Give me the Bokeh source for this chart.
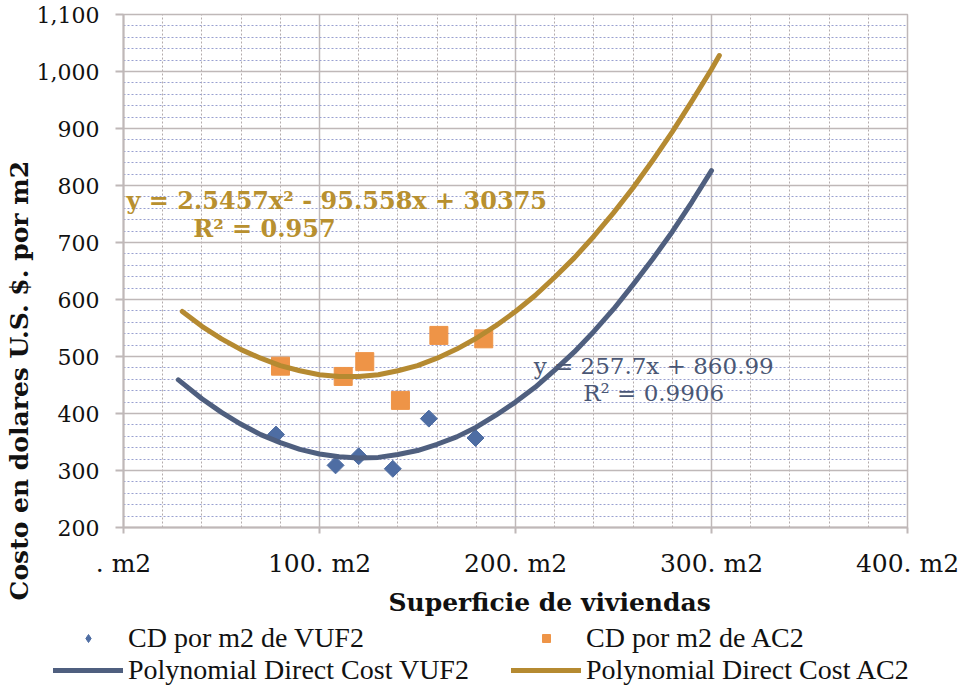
import math
from bokeh.plotting import figure
from bokeh.models import (Range1d, SingleIntervalTicker, NumeralTickFormatter,
                          Legend, LegendItem, Label, Title)
from bokeh.embed import file_html
from bokeh.resources import INLINE

# ---------------- data ----------------
x_vuf2 = [77.8, 108.2, 120.0, 137.4, 155.8, 179.6]
y_vuf2 = [363, 309, 325, 303, 391, 357]

x_ac2 = [80.1, 112.1, 123.1, 141.3, 160.9, 183.8]
y_ac2 = [483, 465, 491, 423, 537, 531]

# trend curves
x_fit_vuf2 = [28, 40, 50, 60, 70, 80, 90, 100, 110, 120, 130, 140, 150, 160,
              170, 180, 190, 200, 210, 220, 230, 240, 250, 260, 270, 280, 290, 300]
y_fit_vuf2 = [459, 426, 402, 381, 363, 349, 337, 329, 324, 322, 323, 328, 335, 346,
              359, 376, 397, 420, 446, 476, 508, 544, 583, 626, 671, 719, 771, 826]

x_fit_ac2 = [30, 40, 50, 60, 70, 80, 90, 100, 110, 120, 130, 140, 150, 160, 170,
             180, 190, 200, 210, 220, 230, 240, 250, 260, 270, 280, 290, 300, 304]
y_fit_ac2 = [579, 553, 531, 512, 497, 484, 475, 468, 465, 465, 468, 475, 484, 497, 513,
             532, 554, 579, 607, 639, 673, 711, 752, 796, 844, 894, 948, 1004, 1028]

x_ticks = [0, 100, 200, 300, 400]
x_tick_labels = [". m2", "100. m2", "200. m2", "300. m2", "400. m2"]

eq_ac2 = ["y = 2.5457x² - 95.558x + 30375", "R² = 0.957"]
eq_vuf2 = ["y = 257.7x + 860.99", "R² = 0.9906"]

series_names = ["CD por m2 de VUF2", "CD por m2 de AC2",
                "Polynomial Direct Cost VUF2", "Polynomial Direct Cost AC2"]

x_title = "Superficie de viviendas"
y_title = "Costo en dolares U.S. $. por m2"

# ---------------- styles ----------------
C_DIAM = "#4E6DA3"
C_SQ = "#EE9447"
C_LVUF = "#4F5F7F"
C_LAC = "#B58A31"
C_TXT_GOLD = "#B8902F"
C_TXT_BLUE = "#4A5775"
C_GRID = "#BFB8B8"
SERIF = "DejaVu Serif"
W = 960

p = figure(width=W, height=622, x_range=Range1d(0, 400), y_range=Range1d(200, 1100),
           output_backend="svg", toolbar_location=None,
           min_border_left=123, min_border_right=53, min_border_top=14, min_border_bottom=95)
p.background_fill_color = "white"
p.border_fill_color = "white"
p.outline_line_color = C_GRID
p.outline_line_width = 1.5

p.xaxis.ticker = SingleIntervalTicker(interval=100, num_minor_ticks=5)
p.yaxis.ticker = SingleIntervalTicker(interval=100, num_minor_ticks=5)
p.xaxis.major_label_overrides = {t: l for t, l in zip(x_ticks, x_tick_labels)}
p.yaxis.formatter = NumeralTickFormatter(format="0,0")

for ax in (p.xaxis[0], p.yaxis[0]):
    ax.axis_line_color = C_GRID
    ax.axis_line_width = 2
    ax.major_tick_line_color = C_GRID
    ax.major_tick_line_width = 2
    ax.major_tick_in = 0
    ax.minor_tick_in = 0
    ax.minor_tick_out = 0
    ax.major_label_text_font = SERIF
    ax.major_label_text_color = "#111111"
p.xaxis.major_tick_out = 6
p.yaxis.major_tick_out = 8
p.xaxis.major_label_text_font_size = "25px"
p.yaxis.major_label_text_font_size = "22px"
p.xaxis.major_label_standoff = 15
p.yaxis.major_label_standoff = 16

p.xgrid.grid_line_color = C_GRID
p.xgrid.grid_line_width = 1.5
p.ygrid.grid_line_color = C_GRID
p.ygrid.grid_line_width = 1.5
p.xgrid.minor_grid_line_color = "#B3ABAB"
p.xgrid.minor_grid_line_dash = "2 2"
p.xgrid.minor_grid_line_width = 1
p.ygrid.minor_grid_line_color = "#99A0D0"
p.ygrid.minor_grid_line_dash = "2 2"
p.ygrid.minor_grid_line_width = 1

p.scatter(x_vuf2, y_vuf2, marker="square", angle=math.pi / 4, size=12,
          fill_color=C_DIAM, line_color=C_DIAM)
p.scatter(x_ac2, y_ac2, marker="square", size=18, fill_color=C_SQ, line_color=C_SQ)
p.line(x_fit_vuf2, y_fit_vuf2, line_color=C_LVUF, line_width=5,
       line_cap="round", line_join="round")
p.line(x_fit_ac2, y_fit_ac2, line_color=C_LAC, line_width=5,
       line_cap="round", line_join="round")

# equations (first gold line kept inside the plot frame)
p.add_layout(Label(x=1.5, y=773.7, text=eq_ac2[0], text_align="left", text_baseline="middle",
                   text_font=SERIF, text_font_style="bold", text_font_size="24px",
                   text_color=C_TXT_GOLD))
p.add_layout(Label(x=71.9, y=724.6, text=eq_ac2[1], text_align="center", text_baseline="middle",
                   text_font=SERIF, text_font_style="bold", text_font_size="24px",
                   text_color=C_TXT_GOLD))
for txt, yy in zip(eq_vuf2, [484.2, 435.1]):
    p.add_layout(Label(x=270.5, y=yy, text=txt, text_align="center", text_baseline="middle",
                       text_font=SERIF, text_font_size="23px", text_color=C_TXT_BLUE))

# axis titles
p.add_layout(Title(text=x_title, align="left", offset=265, standoff=10,
                   text_font=SERIF, text_font_style="bold", text_font_size="25px",
                   text_color="#111111"), "below")
p.add_layout(Title(text=y_title, align="left", offset=-73, standoff=0,
                   text_font=SERIF, text_font_style="bold", text_font_size="25px",
                   text_color="#111111"), "left")

# ---------------- legend strip (separate root, full-width frame) ----------------
q = figure(width=W, height=64, x_range=Range1d(0, 1), y_range=Range1d(0, 1),
           x_axis_type=None, y_axis_type=None,
           output_backend="svg", toolbar_location=None,
           min_border_left=0, min_border_right=0, min_border_top=0, min_border_bottom=0)
q.outline_line_color = None
q.background_fill_color = "white"
q.border_fill_color = "white"
# legend swatches: single points placed outside the strip's visible range
g_vuf = q.scatter([-5], [-5], marker="diamond", size=15,
                  fill_color=C_DIAM, line_color=C_DIAM)
g_ac = q.scatter([-5], [-5], marker="square", size=14, fill_color=C_SQ, line_color=C_SQ)
g_lvuf = q.line([-5, -4], [-5, -5], line_color=C_LVUF, line_width=5, line_cap="round")
g_lac = q.line([-5, -4], [-5, -5], line_color=C_LAC, line_width=5, line_cap="round")


def make_legend(items, loc):
    return Legend(items=items, location=loc, orientation="vertical",
                  glyph_width=70, glyph_height=20, label_standoff=5, spacing=0,
                  padding=0, margin=0, border_line_color=None, background_fill_alpha=0,
                  label_text_font="Liberation Serif", label_text_font_size="28px",
                  label_text_color="#111111")


q.add_layout(make_legend([LegendItem(label=series_names[0], renderers=[g_vuf]),
                          LegendItem(label=series_names[2], renderers=[g_lvuf])], (53, 0)))
q.add_layout(make_legend([LegendItem(label=series_names[1], renderers=[g_ac]),
                          LegendItem(label=series_names[3], renderers=[g_lac])], (511, 0)))

open("out.html", "w").write(file_html([p, q], INLINE))
